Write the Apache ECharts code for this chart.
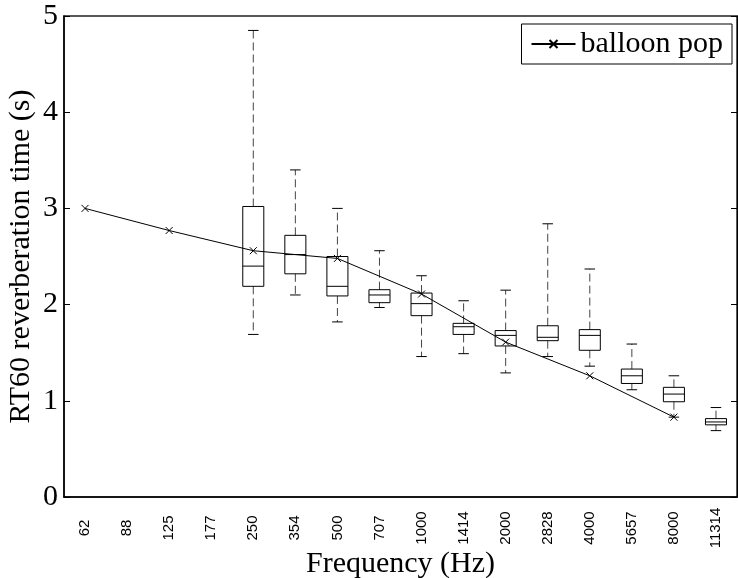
<!DOCTYPE html>
<html>
<head>
<meta charset="utf-8">
<script src="https://cdn.jsdelivr.net/npm/echarts@6/dist/echarts.min.js"></script>
<style>html,body{margin:0;padding:0;background:#fff}#c{width:738px;height:578px}</style>
</head>
<body>
<div id="c"></div>
<script>
var categories = ['62','88','125','177','250','354','500','707','1000','1414','2000','2828','4000','5657','8000','11314'];
var balloonPop = [3.0, null, 2.77, null, 2.56, null, 2.48, null, 2.11, null, 1.61, null, 1.26, null, 0.83, null];
var boxCategories = ['250','354','500','707','1000','1414','2000','2828','4000','5657','8000','11314'];
var boxLow    = [1.69, 2.10, 1.82, 1.97, 1.46, 1.49, 1.29, 1.46, 1.36, 1.115, 0.83, 0.69];
var boxQ1     = [2.19, 2.32, 2.09, 2.02, 1.885, 1.69, 1.57, 1.625, 1.525, 1.18, 0.99, 0.75];
var boxMedian = [2.40, 2.52, 2.19, 2.10, 2.01, 1.77, 1.68, 1.66, 1.68, 1.26, 1.07, 0.78];
var boxQ3     = [3.02, 2.72, 2.50, 2.155, 2.12, 1.805, 1.73, 1.78, 1.74, 1.33, 1.14, 0.815];
var boxHigh   = [4.85, 3.40, 3.00, 2.56, 2.30, 2.04, 2.15, 2.84, 2.37, 1.59, 1.26, 0.93];
var yTicks = [0, 1, 2, 3, 4, 5];

var boxData = boxCategories.map(function (c, i) {
  return [categories.indexOf(c), boxLow[i], boxQ1[i], boxMedian[i], boxQ3[i], boxHigh[i]];
});

var serif = 'Liberation Serif';
var chart = echarts.init(document.getElementById('c'), null, {renderer: 'canvas'});

function renderBox(params, api) {
  var xi = api.value(0);
  var pLow = api.coord([xi, api.value(1)]);
  var pQ1 = api.coord([xi, api.value(2)]);
  var pMed = api.coord([xi, api.value(3)]);
  var pQ3 = api.coord([xi, api.value(4)]);
  var pHigh = api.coord([xi, api.value(5)]);
  var bw = api.size([1, 0])[0] * 0.5;
  var cw = bw * 0.5;
  var cx = pMed[0];
  var solid = {stroke: '#000', lineWidth: 1, fill: null};
  var dashed = {stroke: '#444', lineWidth: 1, lineDash: [8, 4]};
  return {
    type: 'group',
    children: [
      {type: 'line', shape: {x1: cx, y1: pQ3[1], x2: cx, y2: pHigh[1]}, style: dashed},
      {type: 'line', shape: {x1: cx, y1: pQ1[1], x2: cx, y2: pLow[1]}, style: dashed},
      {type: 'line', shape: {x1: cx - cw / 2, y1: pHigh[1], x2: cx + cw / 2, y2: pHigh[1]}, style: solid},
      {type: 'line', shape: {x1: cx - cw / 2, y1: pLow[1], x2: cx + cw / 2, y2: pLow[1]}, style: solid},
      {type: 'rect', shape: {x: cx - bw / 2, y: pQ3[1], width: bw, height: pQ1[1] - pQ3[1]}, style: {stroke: '#000', lineWidth: 1, fill: 'rgba(0,0,0,0)'}},
      {type: 'line', shape: {x1: cx - bw / 2, y1: pMed[1], x2: cx + bw / 2, y2: pMed[1]}, style: solid}
    ]
  };
}

var option = {
  backgroundColor: '#fff',
  animation: false,
  grid: {left: 64, right: 1, top: 16, bottom: 81, show: true, borderColor: '#222', borderWidth: 1.5, containLabel: false, outerBoundsMode: 'none'},
  legend: {
    show: true,
    data: ['balloon pop'],
    right: 6, top: 24,
    backgroundColor: '#fff',
    borderColor: '#000', borderWidth: 1,
    padding: [5, 9, 5, 9],
    itemWidth: 44, itemHeight: 10,
    itemGap: 4,
    textStyle: {fontFamily: serif, fontSize: 30, color: '#000'}
  },
  xAxis: {
    type: 'category',
    data: categories,
    boundaryGap: true,
    name: 'Frequency (Hz)',
    nameLocation: 'middle',
    nameGap: 52,
    nameMoveOverlap: false,
    nameTextStyle: {fontFamily: serif, fontSize: 30, color: '#000'},
    axisLine: {lineStyle: {color: '#000', width: 1.5}},
    axisTick: {show: false},
    axisLabel: {rotate: 90, align: 'center', verticalAlign: 'middle', fontFamily: 'Liberation Sans', fontSize: 15, color: '#000', margin: 31, interval: 0},
    splitLine: {show: false}
  },
  yAxis: [{
    type: 'value',
    min: yTicks[0], max: yTicks[yTicks.length - 1], interval: 1,
    name: 'RT60 reverberation time (s)',
    nameLocation: 'middle',
    nameGap: 28,
    nameMoveOverlap: false,
    nameTextStyle: {fontFamily: serif, fontSize: 30, color: '#000'},
    axisLine: {show: true, lineStyle: {color: '#000', width: 1.5}},
    axisTick: {show: true, inside: true, length: 6, lineStyle: {color: '#000'}},
    axisLabel: {fontFamily: serif, fontSize: 30, color: '#000', margin: 6},
    splitLine: {show: false}
  }, {
    type: 'value',
    position: 'right',
    min: yTicks[0], max: yTicks[yTicks.length - 1], interval: 1,
    axisLine: {show: true, lineStyle: {color: '#000', width: 1}},
    axisTick: {show: true, inside: true, length: 6, lineStyle: {color: '#000'}},
    axisLabel: {show: false},
    splitLine: {show: false}
  }],
  series: [{
    type: 'custom',
    name: 'boxes',
    renderItem: renderBox,
    data: boxData,
    encode: {x: 0, y: [1, 2, 3, 4, 5]},
    z: 2
  }, {
    type: 'line',
    name: 'balloon pop',
    data: balloonPop,
    connectNulls: true,
    symbol: 'path://M0,0L10,10M10,0L0,10',
    symbolSize: 7,
    showSymbol: true,
    lineStyle: {color: '#000', width: 1},
    itemStyle: {color: 'none', borderColor: '#000', borderWidth: 1},
    z: 3
  }]
};
chart.setOption(option);
</script>
</body>
</html>
